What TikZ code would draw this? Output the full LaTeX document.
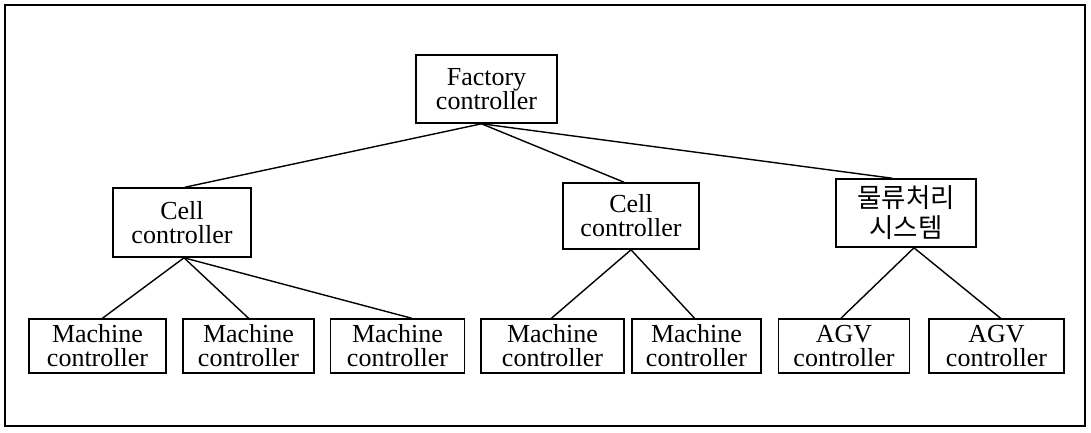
\documentclass[tikz,border=0pt]{standalone}
\usepackage{fontspec}
\setmainfont{Liberation Serif}
\newfontfamily\krfont{Noto Sans CJK KR}
\tikzset{
  size/.style n args={2}{minimum width=#1pt, minimum height=#2pt},
  box/.style={draw, line width=1.6pt, inner sep=0pt, align=center,
    font=\fontsize{26}{24}\selectfont},
  krbox/.style={box, font=\krfont\fontsize{26.5}{30}\selectfont},
  link/.style={line width=1.4pt}
}
\begin{document}
\begin{tikzpicture}[x=1pt,y=-1pt]
  \useasboundingbox (0,0) rectangle (1091,432);
  % outer frame
  \draw[line width=1.6pt] (5,5) rectangle (1085,426);

  % top level
  \node[box, size={141}{68}] (f) at (486.5,89) {Factory\\controller};

  % middle level
  \node[box, size={138}{69}] (c1) at (182,222.5) {Cell\\controller};
  \node[box, size={136}{66}] (c2) at (631,216) {Cell\\controller};
  \node[krbox, size={140}{68}] (k) at (906,213) {물류처리\\시스템};

  % bottom level
  \node[box, size={137}{54}] (m1) at (97.5,346) {Machine\\controller};
  \node[box, size={131}{54}] (m2) at (248.5,346) {Machine\\controller};
  \node[box, size={134}{54}] (m3) at (397.5,346) {Machine\\controller};
  \node[box, size={143}{54}] (m4) at (552.5,346) {Machine\\controller};
  \node[box, size={129}{54}] (m5) at (696.5,346) {Machine\\controller};
  \node[box, size={131}{54}] (a1) at (844,346) {AGV\\controller};
  \node[box, size={135}{54}] (a2) at (996.5,346) {AGV\\controller};

  % connectors
  \draw[link] ([xshift=-5pt]f.south) -- ([xshift=3pt]c1.north);
  \draw[link] ([xshift=-5pt]f.south) -- ([xshift=-7pt]c2.north);
  \draw[link] ([xshift=-5pt]f.south) -- ([xshift=-14pt]k.north);

  \draw[link] ([xshift=2pt]c1.south) -- ([xshift=5pt]m1.north);
  \draw[link] ([xshift=2pt]c1.south) -- (m2.north);
  \draw[link] ([xshift=2pt]c1.south) -- ([xshift=14pt]m3.north);

  \draw[link] (c2.south) -- ([xshift=-1pt]m4.north);
  \draw[link] (c2.south) -- ([xshift=-2pt]m5.north);

  \draw[link] ([xshift=8pt]k.south) -- ([xshift=-3pt]a1.north);
  \draw[link] ([xshift=8pt]k.south) -- ([xshift=4pt]a2.north);
\end{tikzpicture}
\end{document}
